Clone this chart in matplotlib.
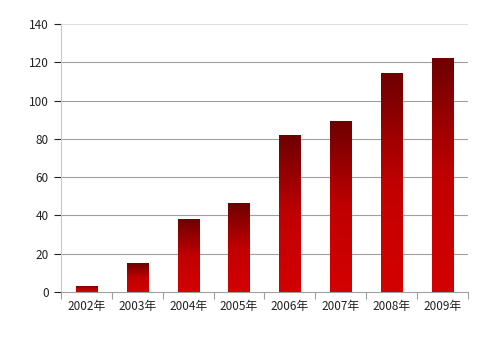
import numpy as np
import matplotlib
matplotlib.use("Agg")
import matplotlib.pyplot as plt
from matplotlib.colors import LinearSegmentedColormap

plt.rcParams['font.family'] = ['Noto Sans CJK SC', 'DejaVu Sans']

years = ['2002年', '2003年', '2004年', '2005年', '2006年', '2007年', '2008年', '2009年']
values = [3, 15, 38, 46, 82, 89, 114, 122]
y_ticks = [0, 20, 40, 60, 80, 100, 120, 140]

fig = plt.figure(figsize=(4.93, 3.47), dpi=100)
ax = fig.add_axes([0.124, 0.1585, 0.825, 0.7723])

# Dark red at the top of each bar fading to bright red at the bottom.
cmap = LinearSegmentedColormap.from_list('bar', ['#d40000', '#c00000', '#6e0000'])
grad = np.linspace(0, 1, 256).reshape(-1, 1)

x = np.arange(len(years))
width = 0.42
for xi, v in zip(x, values):
    ax.imshow(grad, cmap=cmap, origin='lower', aspect='auto',
              extent=(xi - width / 2, xi + width / 2, 0, v), zorder=3)

ax.set_xlim(-0.5, len(years) - 0.5)
ax.set_ylim(0, 140)

for t in y_ticks[1:]:
    color = '#e0e0e0' if t == 140 else '#a0a0a0'
    ax.axhline(t, color=color, lw=0.8, zorder=1)

ax.set_yticks(y_ticks)
ax.set_xticks(x)
ax.set_xticklabels(years)
ax.set_xticks(np.arange(-0.5, len(years)), minor=True)
ax.tick_params(axis='x', which='major', length=0, pad=6, labelsize=8.5, colors='#222222')
ax.tick_params(axis='x', which='minor', length=5, color='#a0a0a0', width=0.8)
ax.tick_params(axis='y', length=5, color='#c8c8c8', width=0.8, pad=4, labelsize=8.5, colors='#222222')
ax.tick_params(axis='y', colors='#222222', labelcolor='#222222')

for s in ['top', 'right']:
    ax.spines[s].set_visible(False)
ax.spines['left'].set_color('#c8c8c8')
ax.spines['bottom'].set_color('#a0a0a0')
ax.spines['left'].set_linewidth(0.8)
ax.spines['bottom'].set_linewidth(0.8)

fig.savefig('out.png', dpi=100)
